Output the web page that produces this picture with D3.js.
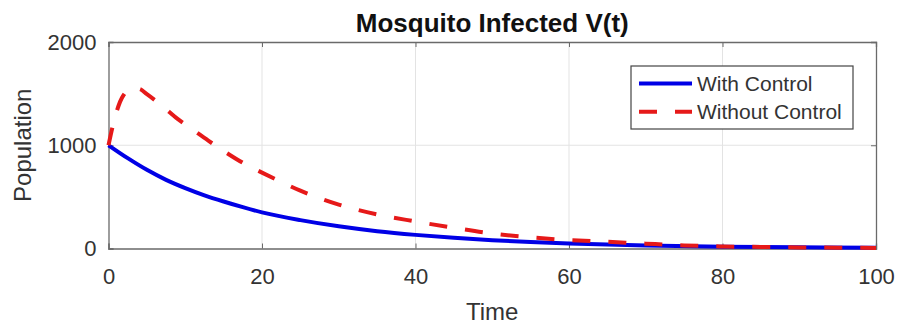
<!DOCTYPE html>
<html><head><meta charset="utf-8">
<script src="https://cdn.jsdelivr.net/npm/d3@7/dist/d3.min.js"></script>
<style>body{margin:0;background:#fff}svg{display:block;font-family:"Liberation Sans",Arial,sans-serif}</style>
</head><body><svg id="c" width="897" height="324"></svg>
<script>
const title = "Mosquito Infected V(t)";
const xLabel = "Time";
const yLabel = "Population";
const seriesNames = ["With Control", "Without Control"];
const xTicks = [0, 20, 40, 60, 80, 100];
const yTicks = [0, 1000, 2000];
const tWith = [0, 2.5, 5, 7.5, 10, 12.5, 15, 17.5, 20, 25, 30, 35, 40, 45, 50, 55, 60, 70, 80, 90, 100];
const vWith = [1000, 875, 762, 665, 585, 515, 455, 400, 350, 275, 215, 168, 132, 103, 80, 62, 48, 30, 18, 11, 7];
const tWithout = [0, 0.5, 1, 1.5, 2, 3, 4, 5, 7, 9, 11, 13, 15, 17.5, 20, 22.5, 25, 30, 35, 40, 45, 50, 55, 60, 65, 70, 75, 80, 85, 90, 95, 100];
const vWithout = [1000, 1170, 1310, 1420, 1490, 1550, 1545, 1495, 1380, 1255, 1150, 1045, 945, 830, 735, 645, 560, 425, 330, 262, 200, 145, 108, 82, 65, 47, 30, 20, 15, 10, 8, 6];

const svg = d3.select("#c");
const L = 108.5, R = 876, T = 42, B = 248.5;
const x = d3.scaleLinear().domain([0, 100]).range([L, R]);
const y = d3.scaleLinear().domain([0, 2000]).range([B, T]);

// grid
svg.append("g").selectAll("line").data(xTicks.slice(1, -1)).join("line")
  .attr("x1", d => x(d)).attr("x2", d => x(d)).attr("y1", T).attr("y2", B)
  .attr("stroke", "#e3e3e3").attr("stroke-width", 1);
svg.append("g").selectAll("line").data(yTicks.slice(1, -1)).join("line")
  .attr("y1", d => y(d)).attr("y2", d => y(d)).attr("x1", L).attr("x2", R)
  .attr("stroke", "#e3e3e3").attr("stroke-width", 1);

// axes
const axCol = "#6a6a6a";
const gx = svg.append("g").attr("transform", `translate(0,${B})`)
  .call(d3.axisBottom(x).tickValues(xTicks).tickSize(-5).tickPadding(20).tickFormat(d3.format("d")));
const gxt = svg.append("g").attr("transform", `translate(0,${T})`)
  .call(d3.axisTop(x).tickValues(xTicks).tickSize(-5).tickFormat(""));
const gy = svg.append("g").attr("transform", `translate(${L},0)`)
  .call(d3.axisLeft(y).tickValues(yTicks).tickSize(-5).tickPadding(12).tickFormat(d3.format("d")));
const gyr = svg.append("g").attr("transform", `translate(${R},0)`)
  .call(d3.axisRight(y).tickValues(yTicks).tickSize(-5).tickFormat(""));
[gx, gxt, gy, gyr].forEach(g => {
  g.select(".domain").attr("stroke", axCol).attr("stroke-width", 1.3);
  g.selectAll(".tick line").attr("stroke", axCol);
  g.selectAll("text").attr("fill", "#333").style("font-size", "22px").style("font-family", "'Liberation Sans',Arial,sans-serif");
});

// lines
const line = d3.line().x(d => x(d[0])).y(d => y(d[1])).curve(d3.curveMonotoneX);
svg.append("path").datum(tWith.map((t, i) => [t, vWith[i]]))
  .attr("d", line).attr("fill", "none").attr("stroke", "#0000e6").attr("stroke-width", 4);
svg.append("path").datum(tWithout.map((t, i) => [t, vWithout[i]]))
  .attr("d", line).attr("fill", "none").attr("stroke", "#e61919").attr("stroke-width", 4)
  .attr("stroke-dasharray", "18,18");

// title and labels
svg.append("text").attr("x", (L + R) / 2).attr("y", 31.5).attr("text-anchor", "middle")
  .style("font-size", "26px").style("font-weight", "bold").attr("fill", "#111").text(title);
svg.append("text").attr("x", (L + R) / 2).attr("y", 320).attr("text-anchor", "middle")
  .style("font-size", "24px").attr("fill", "#333").text(xLabel);
svg.append("text").attr("transform", `translate(31,${(T + B) / 2}) rotate(-90)`).attr("text-anchor", "middle")
  .style("font-size", "24px").attr("fill", "#333").text(yLabel);

// legend
const lg = svg.append("g");
lg.append("rect").attr("x", 631).attr("y", 66).attr("width", 222).attr("height", 63)
  .attr("fill", "#fff").attr("stroke", "#444").attr("stroke-width", 1.2);
const styles = [{c: "#0000e6", d: null}, {c: "#e61919", d: "18,18"}];
seriesNames.forEach((n, i) => {
  const yy = 83.5 + i * 28.3;
  lg.append("line").attr("x1", 639).attr("x2", 692).attr("y1", yy).attr("y2", yy)
    .attr("stroke", styles[i].c).attr("stroke-width", 4).attr("stroke-dasharray", styles[i].d);
  lg.append("text").attr("x", 697).attr("y", yy + 7.5).style("font-size", "21px").attr("fill", "#333").text(n);
});
</script></body></html>
